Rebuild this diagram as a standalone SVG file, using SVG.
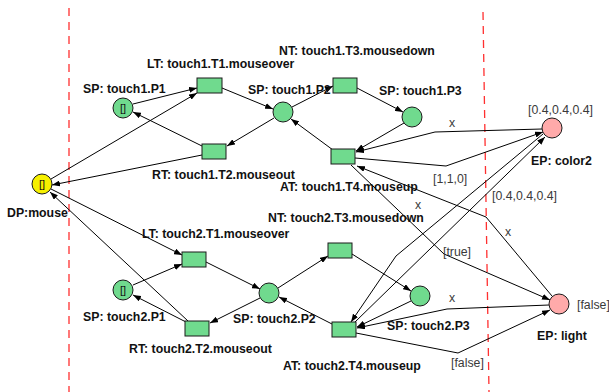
<svg xmlns="http://www.w3.org/2000/svg" width="609" height="392" viewBox="0 0 609 392">
  <defs>
    <marker id="arrow" markerUnits="userSpaceOnUse" markerWidth="8" markerHeight="6" refX="8" refY="3" orient="auto">
      <path d="M0,0 L8,3 L0,6 z" fill="#000"/>
    </marker>
    <style>
      .place { fill: #70da8e; stroke: #1a1a1a; stroke-width: 1; }
      .trans { fill: #70da8e; stroke: #1a1a1a; stroke-width: 1; }
      .device { fill: #f6f000; stroke: #1a1a1a; stroke-width: 1; }
      .ext { fill: #ffaaaa; stroke: #1a1a1a; stroke-width: 1; }
      .lbl { font-family: "Liberation Sans", Arial, Helvetica, sans-serif; font-size: 12.3px; font-weight: bold; fill: #111; }
      .val { font-family: "Liberation Sans", Arial, Helvetica, sans-serif; font-size: 12.3px; fill: #3a3a3a; }
      .tok { font-family: "Liberation Sans", Arial, Helvetica, sans-serif; font-size: 11px; fill: #111; text-anchor: middle; }
      .arc { fill: none; stroke: #000; stroke-width: 1; marker-end: url(#arrow); }
      .zone { stroke: #ff3030; stroke-width: 1.3; stroke-dasharray: 8 6; fill: none; }
    </style>
  </defs>

  <!-- zone boundaries -->
  <g id="boundaries">
    <line class="zone" x1="69" y1="8" x2="69" y2="392"/>
    <line class="zone" x1="483" y1="12" x2="489" y2="392"/>
  </g>

  <!-- arcs -->
  <g id="connectors">
    <!-- touch1 -->
    <line class="arc" x1="133" y1="104" x2="197" y2="88"/>
    <line class="arc" x1="51" y1="179" x2="197" y2="93"/>
    <line class="arc" x1="222" y1="88" x2="273" y2="109"/>
    <line class="arc" x1="274" y1="118" x2="227" y2="146"/>
    <line class="arc" x1="202" y1="146" x2="133" y2="112"/>
    <line class="arc" x1="202" y1="155" x2="52" y2="185"/>
    <line class="arc" x1="292" y1="107" x2="333" y2="86"/>
    <line class="arc" x1="357" y1="88" x2="403" y2="112"/>
    <line class="arc" x1="404" y1="123" x2="356" y2="151"/>
    <line class="arc" x1="333" y1="150" x2="291" y2="119"/>
    <polyline class="arc" points="542,129 435,132 356,152"/>
    <polyline class="arc" points="355,158 446,166 543,132"/>
    <polyline class="arc" points="552,296 486,217 357,166"/>
    <polyline class="arc" points="351,165 444,254 550,300"/>

    <!-- touch2 -->
    <line class="arc" x1="133" y1="285" x2="182" y2="264"/>
    <line class="arc" x1="51" y1="189" x2="182" y2="255"/>
    <line class="arc" x1="206" y1="262" x2="260" y2="289"/>
    <line class="arc" x1="260" y1="298" x2="210" y2="323"/>
    <line class="arc" x1="186" y1="322" x2="133" y2="295"/>
    <line class="arc" x1="188" y1="321" x2="50" y2="192"/>
    <line class="arc" x1="278" y1="288" x2="328" y2="256"/>
    <line class="arc" x1="352" y1="254" x2="411" y2="291"/>
    <line class="arc" x1="411" y1="301" x2="357" y2="327"/>
    <line class="arc" x1="332" y1="324" x2="279" y2="297"/>
    <polyline class="arc" points="543,134 396,256 351,322"/>
    <line class="arc" x1="355" y1="322" x2="545" y2="137"/>
    <polyline class="arc" points="549,305 447,309 357,328"/>
    <polyline class="arc" points="356,333 458,353 550,310"/>
  </g>

  <!-- arc inscriptions -->
  <g id="inscriptions">
    <text class="val" x="449" y="127">x</text>
    <text class="val" x="433" y="183">[1,1,0]</text>
    <text class="val" x="492" y="200">[0.4,0.4,0.4]</text>
    <text class="val" x="415" y="209">x</text>
    <text class="val" x="505" y="236">x</text>
    <text class="val" x="443" y="256">[true]</text>
    <text class="val" x="449" y="302">x</text>
    <text class="val" x="451" y="367">[false]</text>
  </g>

  <!-- device place -->
  <g id="dp-mouse">
    <circle class="device" cx="42" cy="184" r="10"/>
    <text class="tok" x="42" y="188">[]</text>
    <text class="lbl" x="7" y="217">DP:mouse</text>
  </g>

  <!-- touch1 net -->
  <g id="touch1-P1">
    <circle class="place" cx="123" cy="108" r="10"/>
    <text class="tok" x="123" y="112">[]</text>
    <text class="lbl" x="83" y="93">SP: touch1.P1</text>
  </g>
  <g id="touch1-T1">
    <rect class="trans" x="197" y="78" width="25" height="15"/>
    <text class="lbl" x="147" y="68">LT: touch1.T1.mouseover</text>
  </g>
  <g id="touch1-T2">
    <rect class="trans" x="202" y="144" width="24" height="15"/>
    <text class="lbl" x="152" y="179">RT: touch1.T2.mouseout</text>
  </g>
  <g id="touch1-P2">
    <circle class="place" cx="283" cy="112" r="10"/>
    <text class="lbl" x="248" y="94">SP: touch1.P2</text>
  </g>
  <g id="touch1-T3">
    <rect class="trans" x="333" y="78" width="24" height="15"/>
    <text class="lbl" x="279" y="55">NT: touch1.T3.mousedown</text>
  </g>
  <g id="touch1-P3">
    <circle class="place" cx="412" cy="117" r="10"/>
    <text class="lbl" x="379" y="95">SP: touch1.P3</text>
  </g>
  <g id="touch1-T4">
    <rect class="trans" x="331" y="149" width="24" height="15"/>
    <text class="lbl" x="280" y="191">AT: touch1.T4.mouseup</text>
  </g>

  <!-- touch2 net -->
  <g id="touch2-P1">
    <circle class="place" cx="123" cy="290" r="10"/>
    <text class="tok" x="123" y="294">[]</text>
    <text class="lbl" x="83" y="321">SP: touch2.P1</text>
  </g>
  <g id="touch2-T1">
    <rect class="trans" x="182" y="252" width="24" height="15"/>
    <text class="lbl" x="142" y="238">LT: touch2.T1.mouseover</text>
  </g>
  <g id="touch2-T2">
    <rect class="trans" x="185" y="321" width="24" height="15"/>
    <text class="lbl" x="129" y="353">RT: touch2.T2.mouseout</text>
  </g>
  <g id="touch2-P2">
    <circle class="place" cx="269" cy="293" r="10"/>
    <text class="lbl" x="233" y="323">SP: touch2.P2</text>
  </g>
  <g id="touch2-T3">
    <rect class="trans" x="328" y="243" width="24" height="15"/>
    <text class="lbl" x="268" y="222">NT: touch2.T3.mousedown</text>
  </g>
  <g id="touch2-P3">
    <circle class="place" cx="420" cy="296" r="10"/>
    <text class="lbl" x="387" y="330">SP: touch2.P3</text>
  </g>
  <g id="touch2-T4">
    <rect class="trans" x="332" y="322" width="24" height="15"/>
    <text class="lbl" x="283" y="370">AT: touch2.T4.mouseup</text>
  </g>

  <!-- environment places -->
  <g id="ep-color2">
    <circle class="ext" cx="552" cy="128" r="10"/>
    <text class="val" x="528" y="114">[0.4,0.4,0.4]</text>
    <text class="lbl" x="531" y="165">EP: color2</text>
  </g>
  <g id="ep-light">
    <circle class="ext" cx="559" cy="304" r="10"/>
    <text class="val" x="577" y="309">[false]</text>
    <text class="lbl" x="537" y="340">EP: light</text>
  </g>
</svg>
